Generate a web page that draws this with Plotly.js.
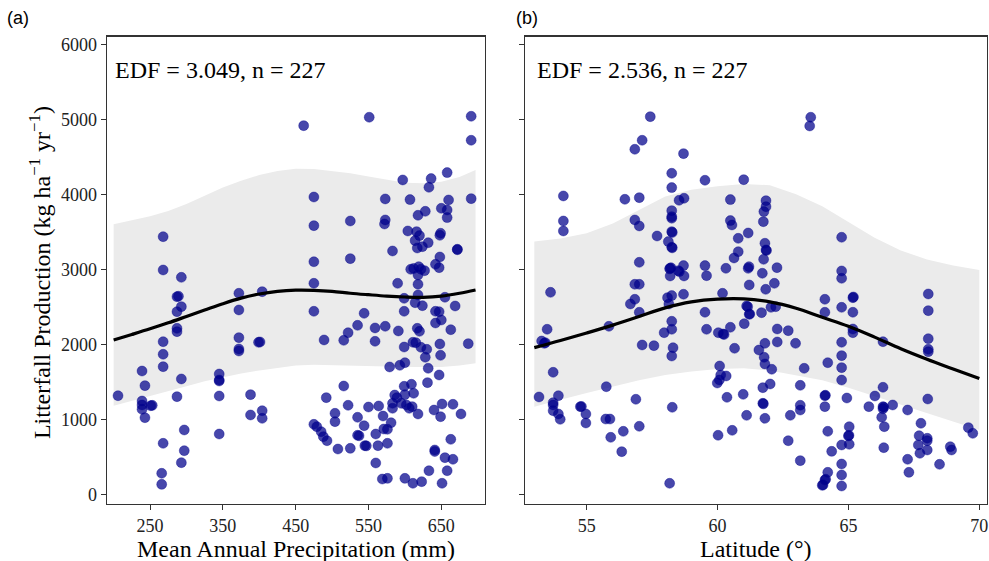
<!DOCTYPE html>
<html>
<head>
<meta charset="utf-8">
<script src="https://cdn.plot.ly/plotly-3.0.1.min.js"></script>
<style>html,body{margin:0;padding:0;background:#fff;}#chart{width:989px;height:561px;}</style>
</head>
<body>
<div id="chart"></div>
<script>
// ---------- Panel (a): Mean Annual Precipitation ----------
const mapPoints = [
[461,4924],[268,3444],[268,3000],[293,2902],
[551,5036],[691,5049],[691,4729],[597,4200],[636,4218],[633,4102],[658,4298],
[475,3973],[573,3947],[607,3938],[660,3933],[691,3951],
[650,3822],[658,3800],[628,3782],[618,3729],[658,3698],
[475,3591],[525,3653],[573,3667],[572,3613],
[604,3520],[616,3511],[620,3458],[614,3391],[632,3364],[617,3293],[624,3311],
[649,3489],[648,3462],[583,3253],[672,3276],[672,3270],
[475,3110],[525,3151],[648,3173],[642,3076],[647,3031],[608,3009],[619,3044],[627,2991],[618,2933],[612,3020],[622,3010],
[475,2822],[590,2822],
[618,2809],[618,2667],[599,2622],[614,2564],[624,2524],[655,2636],[669,2520],
[475,2449],[544,2422],[599,2449],[642,2449],[647,2444],[650,2333],[642,2293],
[535,2262],[522,2164],[516,2062],[489,2067],[559,2227],[573,2249],[559,2049],
[591,2187],[617,2222],[620,2182],[663,2204],
[599,1973],[611,2036],[615,2031],[622,1969],[630,1942],[648,2013],[687,2018],
[628,1836],[649,1862],[579,1707],[593,1729],[600,1764],[632,1689],[647,1600],
[631,1498],[599,1449],[609,1476],[516,1453],[492,1298],[586,1333],[600,1338],[612,1356],
[589,1298],[583,1222],[595,1222],[602,1200],[610,1178],[522,1196],[550,1173],[564,1187],
[583,1156],[606,1156],[618,1080],[651,1213],[666,1209],[640,1133],[649,1044],[677,1080],
[504,1089],[504,978],[475,942],[479,911],[485,844],[488,778],[493,724],
[535,1036],[544,924],[570,1053],[581,964],[571,880],[576,876],[560,813],[535,796],[537,790],
[545,658],[547,655],[508,613],[525,622],[563,658],[576,689],[663,742],[641,600],[641,580],
[655,498],[666,476],[560,427],[633,324],[658,324],[569,213],[576,222],[600,222],[611,156],[623,178],[651,156],
[287,2644],[289,2650],[293,2511],[287,2444],[287,2222],[287,2178],[268,2044],[268,1876],[268,1711],
[239,1653],[243,1458],[293,1547],[206,1324],[239,1253],[239,1200],[239,1142],[251,1191],[253,1195],
[243,1031],[287,1311],[297,867],[268,689],[297,591],[293,431],[266,289],[266,142],
[345,1613],[345,1533],[345,1520],[345,1320],[345,813],
[372,2689],[404,2711],[372,2467],[372,2098],[372,1947],[372,1920],[399,2036],[401,2040],
[388,1338],[388,1067],[404,1124],[404,1022]
];
const mapGrid  = [200,225,250,275,300,325,350,375,400,425,450,475,500,525,550,575,600,625,650,675,697];
const mapFit   = [2067,2140,2215,2295,2380,2465,2550,2625,2680,2715,2730,2728,2715,2690,2670,2652,2640,2636,2652,2690,2733];
const mapUpper = [3609,3660,3715,3785,3880,3990,4100,4190,4265,4320,4350,4345,4320,4289,4245,4200,4164,4155,4175,4240,4333];
const mapLower = [1191,1255,1320,1383,1450,1515,1570,1620,1660,1695,1725,1738,1735,1727,1719,1712,1706,1701,1705,1725,1756];

// ---------- Panel (b): Latitude ----------
const latPoints = [
[57.43,5044],[57.12,4729],[56.84,4609],[58.70,4551],[58.25,4289],[59.52,4196],[61.0,4204],[58.25,4098],
[54.11,3987],[56.46,3942],[57.01,3964],[58.53,3929],[58.72,3956],[60.49,3938],
[58.25,3791],[58.25,3711],[58.25,3690],[54.11,3653],[56.84,3667],[57.01,3587],[60.49,3658],[60.55,3600],[61.17,3493],
[54.11,3520],[57.69,3453],[58.25,3511],[58.27,3500],[58.12,3378],[58.25,3302],[58.27,3295],
[60.79,3422],[60.79,3244],[60.63,3160],[57.01,3102],[58.70,3058],[59.52,3058],[60.32,3022],[61.17,3022],
[58.19,3022],[58.22,3030],[58.17,3015],[58.5,2991],
[58.19,2920],[58.54,2978],[58.72,2920],[59.58,2924],[61.21,2800],[56.84,2809],[57.01,2809],[53.62,2702],[58.70,2676],
[56.84,2609],[56.67,2547],[58.09,2631],[58.25,2658],[58.14,2547],[57.01,2436],[60.19,2689],[61.11,2520],[61.21,2409],
[59.52,2436],[58.25,2316],[58.25,2209],[57.96,2164],[59.58,2209],[60.03,2164],[60.21,2147],[60.25,2140],[60.49,2236],[61.02,2284],
[53.49,2209],[53.28,2053],[53.38,2022],[53.42,2030],[55.85,2249],[57.12,2000],[57.57,1991],[58.30,1964],[58.25,1853],[60.65,1956],
[53.72,1636],[55.75,1444],[60.08,1720],[60.12,1600],[60.33,1587],[60.07,1533],[59.99,1493],
[53.18,1307],[53.92,1324],[53.72,1231],[53.72,1200],[53.72,1124],[53.92,1080],[53.99,1009],[54.76,1178],[54.80,1180],
[54.97,1080],[54.97,960],[55.73,1013],[55.89,1013],[55.92,769],[56.40,849],[56.34,578],[56.88,1276],[57.01,916],
[58.27,1169],[58.17,156],[60.36,1302],[60.98,1342],[61.11,1062],[60.02,796],[60.56,862],
[63.56,5036],[63.52,4920],[61.85,3924],[61.85,3844],[61.77,3778],[61.75,3644],[64.74,3436],[61.81,3356],[61.85,3267],[61.87,3260],
[61.76,3142],[61.2,3044],[62.27,3031],[61.71,2956],[64.74,2987],[64.74,2889],
[61.84,2742],[62.17,2822],[61.15,2511],[61.23,2413],[61.68,2431],[62.04,2502],[62.22,2511],[62.28,2213],[62.70,2191],
[62.28,2040],[62.98,2022],[61.81,2022],[61.58,1933],[61.78,1836],[61.81,1747],[62.07,1676],[63.31,1689],
[64.10,2609],[64.10,2436],[64.74,2502],[65.17,2631],[65.19,2640],[65.17,2436],[65.17,2213],[65.17,2164],
[64.74,2036],[64.74,1858],[64.74,1698],[64.74,1533],[64.21,1764],[66.32,2044],
[68.05,2680],[68.05,2458],[68.05,2084],[68.05,1942],[68.05,1910],[68.03,1280],
[66.32,1436],[66.01,1320],[65.78,1178],[66.32,1178],[66.35,1170],[66.32,1150],[66.69,1200],[66.27,1036],[66.37,911],[66.35,631],
[67.26,1133],[67.77,956],[67.70,791],[68.01,756],[68.01,724],[68.01,600],[67.67,667],[67.73,556],[67.26,476],[67.31,302],[68.48,409],
[68.89,644],[68.94,600],[69.58,898],[69.75,822],[64.94,1293],[64.10,1324],[64.12,1330],[64.10,1178],
[63.16,1462],[63.16,1196],[63.16,1133],[62.78,1062],[62.70,724],[63.16,458],
[61.73,1431],[62.01,1480],[61.73,1222],[61.75,1215],[61.81,1022],
[64.21,849],[65.03,911],[65.0,787],[65.02,795],[65.03,676],[64.74,667],[64.36,582],[64.74,413],[64.74,267],[64.74,120],[64.21,302],
[64.10,200],[64.13,210],[64.0,129],[64.03,135]
];
const latGrid  = [53,54,55,56,57,58,59,60,61,62,63,64,65,66,67,68,69,70];
const latFit   = [1965,2060,2160,2265,2380,2495,2575,2612,2615,2575,2490,2370,2250,2105,1950,1810,1680,1552];
const latUpper = [3378,3420,3490,3620,3800,3978,4070,4115,4145,4130,4010,3850,3640,3430,3260,3140,3060,3000];
const latLower = [1175,1270,1360,1450,1530,1600,1645,1680,1690,1660,1600,1530,1430,1325,1210,1095,980,865];

const panelLabels = ['(a)','(b)'];
const edfLabels = ['EDF = 3.049, n = 227','EDF = 2.536, n = 227'];
const xTitles = ['Mean Annual Precipitation (mm)','Latitude (°)'];
const yTitle = 'Litterfall Production (kg ha<sup>−1</sup> yr<sup>−1</sup>)';
const yTicks = [0,1000,2000,3000,4000,5000,6000];
const mapTicks = [250,350,450,550,650];
const latTicks = [55,60,65,70];

const SERIF = '"Liberation Serif","Times New Roman",serif';
const SANS = '"Liberation Sans",Arial,sans-serif';
const ptColor = 'rgba(0,0,139,0.72)';

function ribbon(xs, up, lo, xa, ya){
  return {x: xs.concat(xs.slice().reverse()), y: up.concat(lo.slice().reverse()),
    xaxis: xa, yaxis: ya, type:'scatter', mode:'lines', fill:'toself',
    fillcolor:'#EBEBEB', line:{width:0, color:'rgba(0,0,0,0)'}, hoverinfo:'skip', showlegend:false};
}
function pts(arr, xa, ya){
  return {x: arr.map(p=>p[0]), y: arr.map(p=>p[1]), xaxis:xa, yaxis:ya, type:'scatter', mode:'markers',
    marker:{size:10, color:ptColor, line:{width:0.8, color:'rgba(0,0,139,0.45)'}}, showlegend:false};
}
function fit(xs, ys, xa, ya){
  return {x: xs, y: ys, xaxis:xa, yaxis:ya, type:'scatter', mode:'lines',
    line:{color:'#000', width:3.2, shape:'spline'}, showlegend:false};
}

const data = [
  ribbon(mapGrid, mapUpper, mapLower, 'x', 'y'),
  pts(mapPoints, 'x', 'y'),
  fit(mapGrid, mapFit, 'x', 'y'),
  ribbon(latGrid, latUpper, latLower, 'x2', 'y2'),
  pts(latPoints, 'x2', 'y2'),
  fit(latGrid, latFit, 'x2', 'y2')
];

const axBase = {showgrid:false, zeroline:false, showline:true, mirror:true, linecolor:'#333', linewidth:1.2,
  ticks:'outside', ticklen:5, tickwidth:1, tickcolor:'#333', tickfont:{family:SERIF, size:18, color:'#222'}};
const yDom = [0.1016, 0.9346];

const layout = {
  width:989, height:561, margin:{l:0,r:0,t:0,b:0}, paper_bgcolor:'#fff', plot_bgcolor:'#fff',
  showlegend:false,
  xaxis: Object.assign({}, axBase, {domain:[0.1079,0.4904], range:[190.5,710], tickvals:mapTicks, anchor:'y'}),
  yaxis: Object.assign({}, axBase, {domain:yDom, range:[-120,6110], tickvals:yTicks, anchor:'x'}),
  xaxis2: Object.assign({}, axBase, {domain:[0.5313,0.998], range:[52.662,70.294], tickvals:latTicks, anchor:'y2'}),
  yaxis2: Object.assign({}, axBase, {domain:yDom, range:[-120,6110], tickvals:yTicks, showticklabels:false, anchor:'x2'}),
  annotations: [
    {text:panelLabels[0], xref:'paper', yref:'paper', x:0.0185, y:0.968, xanchor:'center', yanchor:'middle', showarrow:false, font:{family:SANS, size:18, color:'#000'}},
    {text:panelLabels[1], xref:'paper', yref:'paper', x:0.533, y:0.968, xanchor:'center', yanchor:'middle', showarrow:false, font:{family:SANS, size:18, color:'#000'}},
    {text:edfLabels[0], xref:'paper', yref:'paper', x:0.1146, y:0.875, xanchor:'left', yanchor:'middle', showarrow:false, font:{family:SERIF, size:24, color:'#000'}},
    {text:edfLabels[1], xref:'paper', yref:'paper', x:0.541, y:0.875, xanchor:'left', yanchor:'middle', showarrow:false, font:{family:SERIF, size:24, color:'#000'}},
    {text:xTitles[0], xref:'paper', yref:'paper', x:0.2991, y:0.022, xanchor:'center', yanchor:'middle', showarrow:false, font:{family:SERIF, size:24, color:'#000'}},
    {text:xTitles[1], xref:'paper', yref:'paper', x:0.7645, y:0.022, xanchor:'center', yanchor:'middle', showarrow:false, font:{family:SERIF, size:24, color:'#000'}},
    {text:yTitle, xref:'paper', yref:'paper', x:0.0404, y:0.515, xanchor:'center', yanchor:'middle', textangle:-90, showarrow:false, font:{family:SERIF, size:24, color:'#000'}}
  ]
};

Plotly.newPlot('chart', data, layout, {staticPlot:true, displayModeBar:false});
</script>
</body>
</html>
